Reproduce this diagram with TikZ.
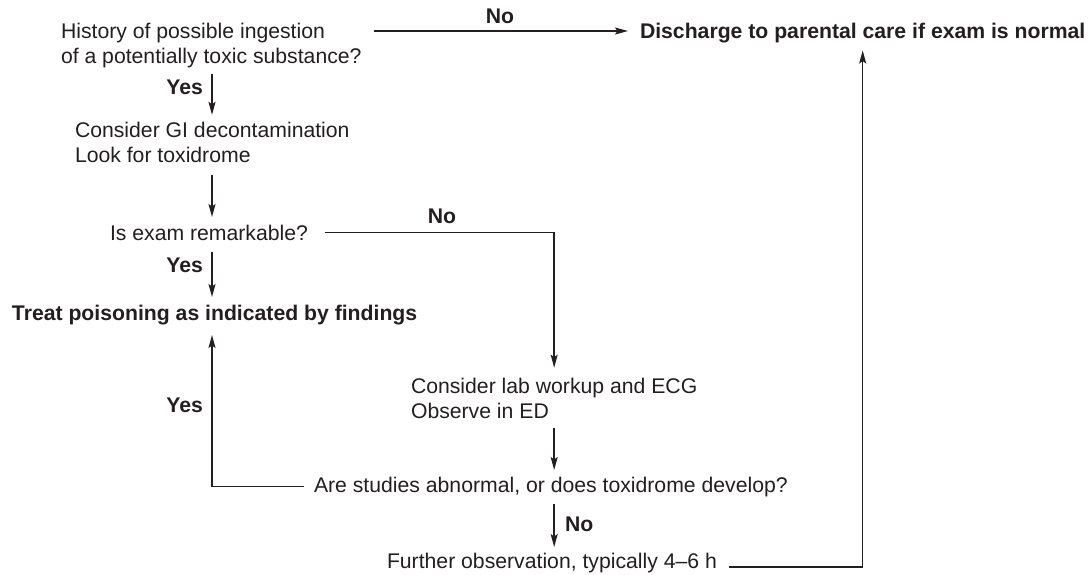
\documentclass[tikz,border=0pt]{standalone}
\usepackage{fontspec}
\setmainfont{Liberation Sans}
\usetikzlibrary{arrows.meta,calc}
\definecolor{ink}{HTML}{231F20}
\begin{document}
\begin{tikzpicture}[x=1pt,y=-1pt,
  every node/.style={inner sep=0pt, outer sep=0pt, text=ink},
  txt/.style={font=\fontsize{21.2}{25}\selectfont},
  one/.style={text height=15pt, text depth=0pt},
  bld/.style={font=\fontsize{21.2}{25}\selectfont\bfseries, text height=15pt, text depth=0pt},
  arr/.style={draw=ink, line width=1.4pt, -{Stealth[length=13pt,width=7pt,inset=2.5pt]}},
  ln/.style={draw=ink, line width=1.4pt}]
\useasboundingbox[fill=white] (0,0) rectangle (1091,574);
\coordinate (colL) at (212,0);
% nodes (multi-line nodes: base = last line)
\node[txt, align=left, anchor=base west] (hist) at (61,63.5) {History of possible ingestion\\of a potentially toxic substance?};
\node[bld, anchor=base west] (dis) at (640,38.5) {Discharge to parental care if exam is normal};
\node[txt, align=left, anchor=base west] (gi) at (75,162) {Consider GI decontamination\\Look for toxidrome};
\node[txt, one, anchor=base] (exam) at (209,240) {Is exam remarkable?};
\node[bld, anchor=base west] (treat) at (12,320) {Treat poisoning as indicated by findings};
\node[txt, align=left, anchor=base west] (lab) at (411,418) {Consider lab workup and ECG\\Observe in ED};
\node[txt, one, anchor=base west] (stud) at (314,492) {Are studies abnormal, or does toxidrome develop?};
\node[txt, one, anchor=base west] (fur) at (387,568) {Further observation, typically 4–6 h};
% labels
\node[bld, anchor=base] (no1) at (500,23) {No};
\node[bld, anchor=base] (no2) at (442,223) {No};
\node[bld, anchor=base west] (no3) at (565,531) {No};
\node[bld, anchor=base east] (yes1) at (203,94) {Yes};
\node[bld, anchor=base east] (yes2) at (203,272) {Yes};
\node[bld, anchor=base east] (yes3) at (203,412) {Yes};
% helper coordinates
\coordinate (disin) at ($(dis.south)+(0,12)$);
\coordinate (treatin) at ($(treat.south)+(0,15)$);
\coordinate (labin) at ($(lab.north)+(0,-10)$);
% connectors
\draw[arr] ($(hist.base east)+(12,-32.5)$) -- ($(dis.west)+(-12,0)$);
\draw[arr, shorten <=6pt, shorten >=6.8pt] (hist.south -| colL) -- (gi.north -| colL);
\draw[arr, shorten <=13pt, shorten >=8pt] (gi.south -| colL) -- (exam.north -| colL);
\draw[arr, shorten <=12pt, shorten >=8pt] (exam.south -| colL) -- (treat.north -| colL);
\draw[arr] ($(exam.east)+(17,0)$) -| (labin);
\draw[arr, shorten <=10pt, shorten >=7pt] (lab.south) -- (lab.south |- stud.north);
\draw[arr, shorten <=12pt, shorten >=6pt] (stud.south -| lab.south) -- (fur.north -| lab.south);
\draw[arr] ($(stud.west)+(-10,2)$) -| (colL |- treatin);
\draw[arr] ($(fur.base east)+(12,-1)$) -| (disin);
\end{tikzpicture}
\end{document}
